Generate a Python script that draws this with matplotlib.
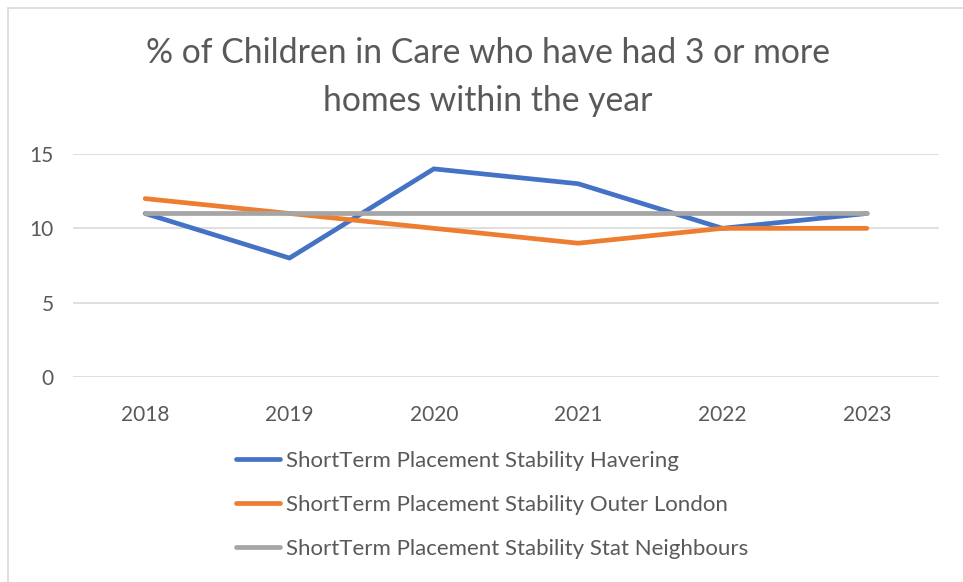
import matplotlib
matplotlib.use('Agg')
from matplotlib import pyplot as plt
from matplotlib.patches import Rectangle

# data
years = ['2018', '2019', '2020', '2021', '2022', '2023']
havering = [11, 8, 14, 13, 10, 11]
outer_london = [12, 11, 10, 9, 10, 10]
stat_neighbours = [11, 11, 11, 11, 11, 11]
labels = ['ShortTerm Placement Stability Havering',
          'ShortTerm Placement Stability Outer London',
          'ShortTerm Placement Stability Stat Neighbours']
colours = ['#4472C4', '#ED7D31', '#A5A5A5']

plt.rcParams['font.family'] = ['Lato', 'DejaVu Sans']

fig = plt.figure(figsize=(9.63, 5.82), dpi=100)
fig.patches.append(Rectangle((8 / 963, -0.01), 1.1, 1 - 8 / 582 + 0.01,
                             transform=fig.transFigure, fill=False,
                             edgecolor='#D9D9D9', linewidth=1.2))

ax = fig.add_axes([73 / 963, 1 - 377 / 582, (939 - 73) / 963, (377 - 154) / 582])
x = range(len(years))
for vals, lab, col in zip([havering, outer_london, stat_neighbours], labels, colours):
    ax.plot(x, vals, color=col, linewidth=3.4, solid_capstyle='round', label=lab)

ax.set_xlim(-0.5, len(years) - 0.5)
ax.set_ylim(0, 15)
ax.set_yticks([0, 5, 10, 15])
ax.set_xticks(list(x))
ax.set_xticklabels(years)
ax.tick_params(length=0, labelsize=15, colors='#595959', pad=20)
ax.tick_params(axis='y', pad=14)
ax.grid(axis='y', color='#D9D9D9', linewidth=1.2)
ax.set_axisbelow(True)
for s in ax.spines.values():
    s.set_visible(False)

fig.text(488 / 963, 1 - 77 / 582, '% of Children in Care who have had 3 or more\nhomes within the year',
         ha='center', va='center', fontsize=24.3, color='#595959', linespacing=1.62)

fig.legend(loc='center left', bbox_to_anchor=(216 / 963, 1 - 505 / 582), frameon=False,
           fontsize=16, labelcolor='#595959', handlelength=2.0, handletextpad=0.25,
           labelspacing=1.08)

plt.savefig('out.png', dpi=100)
